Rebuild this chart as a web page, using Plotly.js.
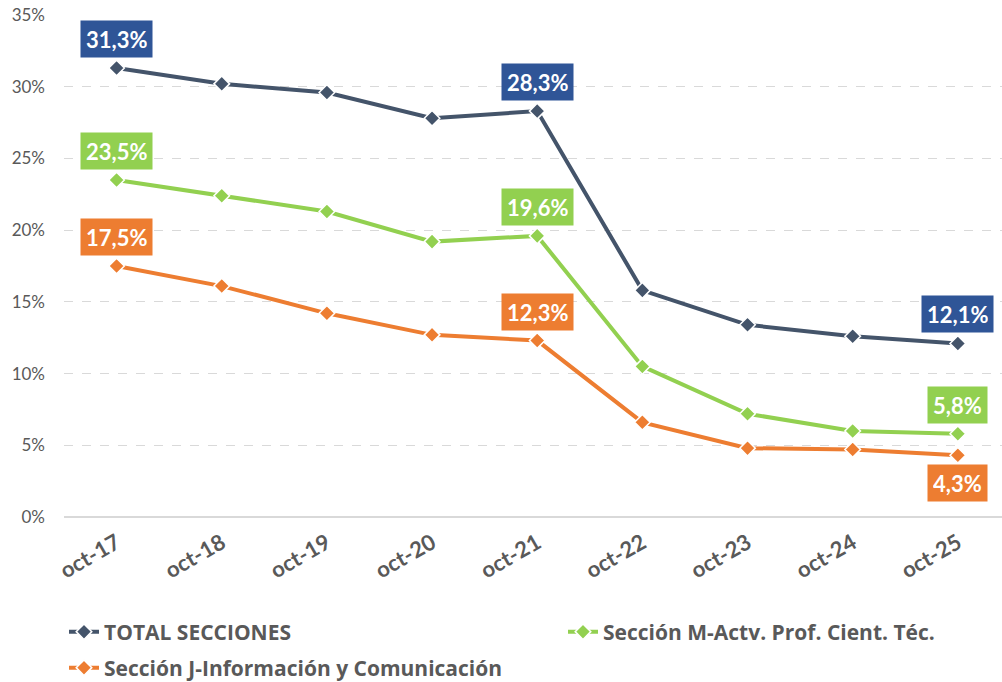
<!DOCTYPE html>
<html>
<head>
<meta charset="utf-8">
<script src="https://cdn.plot.ly/plotly-3.0.1.min.js"></script>
<style>html,body{margin:0;padding:0;background:#fff;}#chart{width:1002px;height:682px;}</style>
</head>
<body>
<div id="chart"></div>
<script>
const categories = ["oct-17","oct-18","oct-19","oct-20","oct-21","oct-22","oct-23","oct-24","oct-25"];
const seriesNames = ["TOTAL SECCIONES","Sección M-Actv. Prof. Cient. Téc.","Sección J-Información y Comunicación"];
const totalValues = [31.3, 30.2, 29.6, 27.8, 28.3, 15.8, 13.4, 12.6, 12.1];
const seccionMValues = [23.5, 22.4, 21.3, 19.2, 19.6, 10.5, 7.2, 6.0, 5.8];
const seccionJValues = [17.5, 16.1, 14.2, 12.7, 12.3, 6.6, 4.8, 4.7, 4.3];
const yTickValues = [0, 5, 10, 15, 20, 25, 30, 35];
const yTickLabels = ["0%", "5%", "10%", "15%", "20%", "25%", "30%", "35%"];

const lineColors = ["#44546A", "#92D050", "#ED7D31"];
const labelColors = ["#2F5597", "#92D050", "#ED7D31"];
const allValues = [totalValues, seccionMValues, seccionJValues];
const legendIds = ["legend", "legend2", "legend3"];
// indices labelled per series, and whether label sits above (1) or below (-1)
const labelSpec = [
  [[0,1],[4,1],[8,1]],
  [[0,1],[4,1],[8,1]],
  [[0,1],[4,1],[8,-1]]
];

const FONT = "Lato, 'Open Sans', sans-serif";
const LEGFONT = {family: "'Open Sans', sans-serif", size: 21, color: "#595959", weight: "bold"};

const traces = allValues.map((vals, i) => ({
  type: "scatter",
  mode: "lines+markers",
  name: seriesNames[i],
  legend: legendIds[i],
  x: categories,
  y: vals,
  line: {color: lineColors[i], width: 4},
  marker: {symbol: "diamond", size: 12, color: lineColors[i], line: {color: "#ffffff", width: 1.5}},
  hoverinfo: "skip"
}));

const fmt = v => v.toFixed(1).replace(".", ",") + "%";
const annotations = [];
labelSpec.forEach((spec, i) => {
  spec.forEach(([idx, dir]) => {
    annotations.push({
      x: categories[idx], y: allValues[i][idx], xref: "x", yref: "y",
      text: "<b>" + fmt(allValues[i][idx]) + "</b>",
      showarrow: false,
      yshift: dir > 0 ? 29 : -28,
      bgcolor: labelColors[i],
      borderpad: 5,
      height: 26,
      font: {family: FONT, size: 22, color: "#ffffff"}
    });
  });
});

const legBase = {
  orientation: "v",
  xref: "container", yref: "container",
  xanchor: "left", yanchor: "middle",
  itemwidth: 30,
  font: LEGFONT,
  bgcolor: "rgba(0,0,0,0)"
};

const layout = {
  width: 1002, height: 682,
  margin: {l: 64, r: 0, t: 15, b: 165, autoexpand: false},
  paper_bgcolor: "#ffffff", plot_bgcolor: "#ffffff",
  font: {family: FONT, color: "#595959"},
  showlegend: true,
  xaxis: {
    type: "category",
    range: [-0.5, 8.42],
    tickangle: -30,
    tickfont: {family: FONT, size: 22, color: "#595959", weight: "bold"},
    showgrid: false, zeroline: false, showline: false,
    ticks: "", ticklabelstandoff: 8, automargin: false
  },
  yaxis: {
    range: [0, 35],
    tickvals: yTickValues,
    ticktext: yTickLabels,
    tickfont: {family: FONT, size: 17, color: "#595959"},
    showgrid: true, gridcolor: "#D9D9D9", griddash: "dash", gridwidth: 1,
    zeroline: true, zerolinecolor: "#D9D9D9", zerolinewidth: 1.5,
    showline: false, ticks: "", ticklabelstandoff: 18, automargin: false
  },
  legend: Object.assign({}, legBase, {x: 64/1002, y: (682-632)/682}),
  legend2: Object.assign({}, legBase, {x: 563/1002, y: (682-632)/682}),
  legend3: Object.assign({}, legBase, {x: 64/1002, y: (682-668)/682}),
  annotations: annotations
};

Plotly.newPlot("chart", traces, layout, {displayModeBar: false, staticPlot: true});
</script>
</body>
</html>
